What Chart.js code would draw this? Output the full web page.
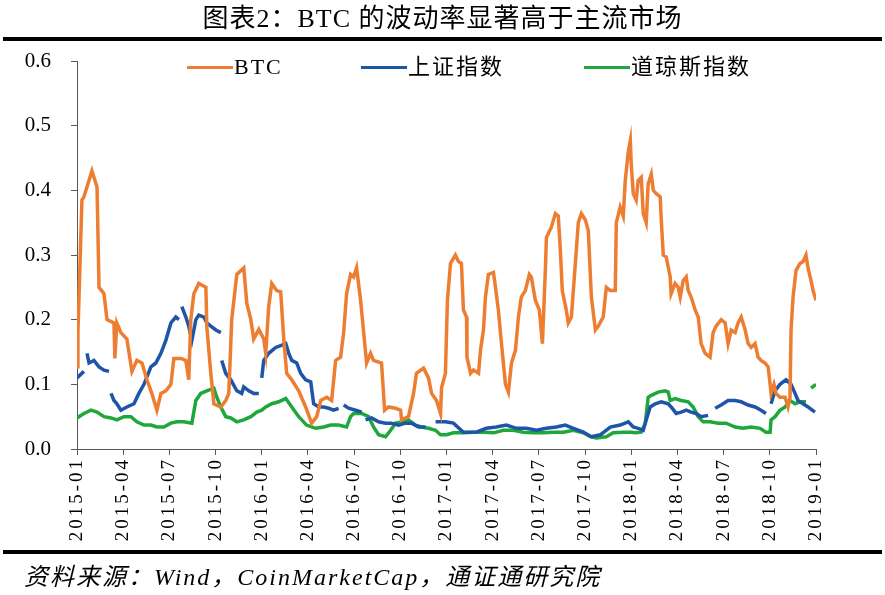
<!DOCTYPE html>
<html>
<head>
<meta charset="utf-8">
<script src="https://cdn.jsdelivr.net/npm/chart.js@4.4.1/dist/chart.umd.min.js"></script>
<style>
  body { margin: 0; background: #fff; }
  #wrap { position: relative; width: 885px; height: 595px; overflow: hidden; }
  #wrap canvas { position: absolute; left: 0; top: 0; }
  .serif { font-family: "Liberation Serif", "Noto Sans CJK SC", serif; color: #000; }
  #title { position: absolute; left: 0; top: 3px; width: 885px; text-align: center; font-size: 26px; letter-spacing: 1px; line-height: 32px; }
  .rule { position: absolute; left: 3px; width: 879px; height: 4px; background: #000; }
  #source { position: absolute; left: 24px; top: 562px; font-size: 24px; letter-spacing: 2px; font-style: italic; line-height: 30px; }
  .key { position: absolute; top: 53px; font-size: 22px; letter-spacing: 2px; line-height: 28px; white-space: nowrap; }
  .key i { display: inline-block; width: 46px; height: 3px; vertical-align: middle; margin-right: 1px; position: relative; top: -1px; }
</style>
</head>
<body>
<div id="wrap">
  <canvas id="volChart"></canvas>
  <div id="title" class="serif">图表2：BTC 的波动率显著高于主流市场</div>
  <div class="rule" style="top:37px"></div>
  <div class="key serif" style="left:187px"><i style="background:#ED7D31"></i>BTC</div>
  <div class="key serif" style="left:361px"><i style="background:#1F55A8"></i>上证指数</div>
  <div class="key serif" style="left:584px"><i style="background:#1EA83C"></i>道琼斯指数</div>
  <div class="rule" style="top:550px"></div>
  <div id="source" class="serif">资料来源：Wind，CoinMarketCap，通证通研究院</div>
</div>
<script>
// x = months since 2015-01, y = volatility
const quarterLabels = ['2015-01', '2015-04', '2015-07', '2015-10', '2016-01', '2016-04', '2016-07', '2016-10',
    '2017-01', '2017-04', '2017-07', '2017-10', '2018-01', '2018-04', '2018-07', '2018-10', '2019-01'];

const btc = [
    [0.00, 0.127], [0.06, 0.18], [0.32, 0.385], [0.45, 0.39], [0.97, 0.43], [1.30, 0.405], [1.43, 0.25], [1.75, 0.24],
    [1.95, 0.20], [2.40, 0.195], [2.46, 0.14], [2.59, 0.195], [2.85, 0.18], [3.24, 0.17], [3.57, 0.12], [3.89, 0.137],
    [4.22, 0.133], [4.54, 0.107], [4.86, 0.086], [5.19, 0.06], [5.45, 0.086], [5.77, 0.09], [6.10, 0.10], [6.29, 0.14],
    [6.75, 0.14], [7.07, 0.137], [7.26, 0.107], [7.39, 0.20], [7.59, 0.24], [7.91, 0.256], [8.37, 0.25], [8.43, 0.19],
    [8.69, 0.117], [8.89, 0.07], [9.34, 0.065], [9.66, 0.075], [9.86, 0.086], [10.05, 0.20], [10.38, 0.27], [10.83, 0.28],
    [11.03, 0.225], [11.29, 0.20], [11.48, 0.17], [11.81, 0.185], [12.13, 0.17], [12.26, 0.148], [12.45, 0.22], [12.65, 0.256],
    [12.97, 0.245], [13.23, 0.243], [13.43, 0.17], [13.62, 0.117], [13.95, 0.107], [14.40, 0.09], [14.85, 0.065], [15.24, 0.04],
    [15.57, 0.05], [15.83, 0.075], [16.22, 0.08], [16.54, 0.075], [16.80, 0.137], [17.12, 0.142], [17.32, 0.18], [17.51, 0.24],
    [17.77, 0.27], [17.97, 0.266], [18.16, 0.28], [18.42, 0.23], [18.62, 0.18], [18.81, 0.133], [19.07, 0.148], [19.26, 0.137],
    [19.78, 0.133], [19.98, 0.06], [20.24, 0.065], [20.69, 0.063], [21.02, 0.06], [21.08, 0.045], [21.53, 0.05], [21.86, 0.086],
    [22.05, 0.117], [22.51, 0.125], [22.83, 0.11], [23.03, 0.086], [23.35, 0.075], [23.61, 0.055], [23.68, 0.095], [23.93, 0.117],
    [24.06, 0.23], [24.26, 0.287], [24.58, 0.30], [24.78, 0.29], [24.97, 0.287], [25.10, 0.215], [25.30, 0.204], [25.33, 0.142],
    [25.56, 0.117], [25.75, 0.122], [26.08, 0.117], [26.21, 0.153], [26.40, 0.184], [26.53, 0.235], [26.72, 0.27], [27.05, 0.273],
    [27.18, 0.25], [27.37, 0.215], [27.57, 0.163], [27.83, 0.10], [28.02, 0.088], [28.22, 0.133], [28.48, 0.153], [28.67, 0.204],
    [28.86, 0.235], [29.12, 0.245], [29.38, 0.27], [29.51, 0.266], [29.77, 0.23], [30.03, 0.215], [30.23, 0.163], [30.42, 0.276],
    [30.49, 0.327], [30.81, 0.343], [31.07, 0.364], [31.26, 0.36], [31.39, 0.31], [31.52, 0.245], [31.78, 0.215], [31.91, 0.195],
    [32.11, 0.204], [32.37, 0.287], [32.56, 0.35], [32.76, 0.364], [33.02, 0.354], [33.21, 0.338], [33.41, 0.235], [33.67, 0.184],
    [33.86, 0.19], [34.18, 0.204], [34.38, 0.25], [34.64, 0.245], [34.96, 0.245], [35.03, 0.35], [35.28, 0.374], [35.48, 0.36],
    [35.61, 0.415], [35.81, 0.46], [35.94, 0.477], [36.00, 0.44], [36.13, 0.395], [36.32, 0.385], [36.45, 0.415], [36.65, 0.42],
    [36.78, 0.364], [36.97, 0.35], [37.10, 0.41], [37.30, 0.425], [37.43, 0.40], [37.62, 0.395], [37.88, 0.39], [37.95, 0.354],
    [38.08, 0.30], [38.27, 0.297], [38.53, 0.266], [38.59, 0.24], [38.85, 0.256], [39.05, 0.25], [39.18, 0.235], [39.37, 0.26],
    [39.57, 0.266], [39.70, 0.245], [39.89, 0.235], [40.15, 0.215], [40.35, 0.204], [40.54, 0.163], [40.80, 0.148], [41.12, 0.142],
    [41.32, 0.18], [41.51, 0.19], [41.84, 0.20], [42.10, 0.195], [42.29, 0.163], [42.49, 0.184], [42.75, 0.18], [42.94, 0.195],
    [43.14, 0.204], [43.40, 0.184], [43.59, 0.163], [43.79, 0.157], [44.04, 0.163], [44.24, 0.142], [44.43, 0.137], [44.69, 0.133],
    [44.89, 0.127], [45.02, 0.10], [45.08, 0.086], [45.27, 0.10], [45.40, 0.086], [45.66, 0.08], [45.99, 0.08], [46.18, 0.065],
    [46.31, 0.08], [46.38, 0.184], [46.51, 0.235], [46.70, 0.276], [46.96, 0.287], [47.16, 0.29], [47.35, 0.30], [47.48, 0.28],
    [47.68, 0.26], [47.81, 0.245], [48.00, 0.23]
];

// 上证指数 (null = gap in the line)
const shanghai = [
    [0.00, 0.11], [0.45, 0.12], [0.55, null], [0.65, 0.148], [0.78, 0.133], [1.10, 0.137], [1.43, 0.127], [1.75, 0.122],
    [2.08, 0.12], [2.12, null], [2.21, 0.086], [2.40, 0.075], [2.59, 0.07], [2.85, 0.06], [3.24, 0.065], [3.70, 0.07],
    [4.02, 0.086], [4.35, 0.10], [4.80, 0.127], [5.12, 0.133], [5.45, 0.148], [5.77, 0.168], [6.10, 0.195], [6.42, 0.204],
    [6.62, 0.20], [6.70, null], [6.81, 0.22], [7.07, 0.204], [7.26, 0.19], [7.46, 0.168], [7.72, 0.20], [7.91, 0.207],
    [8.24, 0.204], [8.43, 0.195], [8.69, 0.19], [9.02, 0.184], [9.34, 0.18], [9.37, null], [9.40, 0.137], [9.66, 0.117],
    [9.99, 0.107], [10.38, 0.09], [10.70, 0.086], [10.83, 0.096], [11.16, 0.09], [11.48, 0.086], [11.81, 0.086], [11.90, null],
    [12.00, 0.11], [12.13, 0.137], [12.45, 0.148], [12.91, 0.157], [13.23, 0.16], [13.56, 0.163], [13.75, 0.148], [13.95, 0.137],
    [14.27, 0.133], [14.53, 0.117], [14.85, 0.107], [15.18, 0.104], [15.37, 0.07], [15.70, 0.065], [16.02, 0.065], [16.35, 0.063],
    [16.67, 0.06], [16.99, 0.063], [17.10, null], [17.32, 0.068], [17.64, 0.063], [18.10, 0.06], [18.49, 0.057], [18.60, null],
    [18.74, 0.045], [19.13, 0.048], [19.59, 0.042], [20.04, 0.04], [20.43, 0.04], [20.89, 0.037], [21.34, 0.04], [21.73, 0.04],
    [22.18, 0.034], [22.64, 0.034], [23.00, null], [23.29, 0.042], [23.93, 0.042], [24.45, 0.04], [25.10, 0.026], [25.94, 0.026],
    [26.59, 0.032], [27.24, 0.034], [27.89, 0.037], [28.54, 0.032], [29.19, 0.032], [29.84, 0.029], [30.49, 0.032], [31.13, 0.034],
    [31.72, 0.037], [32.24, 0.032], [32.89, 0.026], [33.41, 0.019], [33.99, 0.022], [34.64, 0.034], [35.28, 0.037], [35.81, 0.042],
    [36.13, 0.034], [36.45, 0.032], [36.78, 0.029], [36.97, 0.045], [37.23, 0.065], [37.56, 0.07], [37.95, 0.073], [38.40, 0.07],
    [38.59, 0.065], [38.92, 0.055], [39.24, 0.057], [39.57, 0.06], [39.89, 0.057], [40.21, 0.055], [40.54, 0.05], [40.99, 0.052],
    [41.20, null], [41.45, 0.063], [41.84, 0.068], [42.29, 0.075], [42.75, 0.075], [43.14, 0.073], [43.59, 0.068], [44.04, 0.065],
    [44.43, 0.06], [44.75, 0.055], [44.90, null], [45.08, 0.07], [45.34, 0.09], [45.66, 0.10], [46.05, 0.107], [46.38, 0.10],
    [46.64, 0.086], [46.83, 0.075], [47.16, 0.07], [47.48, 0.065], [47.93, 0.057]
];

// 道琼斯指数
const dowJones = [
    [0.00, 0.048], [0.45, 0.055], [0.91, 0.06], [1.30, 0.057], [1.75, 0.05], [2.21, 0.048], [2.59, 0.045], [3.05, 0.05],
    [3.50, 0.05], [3.89, 0.042], [4.35, 0.037], [4.80, 0.037], [5.19, 0.034], [5.64, 0.034], [6.10, 0.04], [6.49, 0.042],
    [6.94, 0.042], [7.46, 0.04], [7.72, 0.075], [8.04, 0.086], [8.43, 0.09], [8.89, 0.094], [9.08, 0.08], [9.34, 0.065],
    [9.66, 0.05], [9.99, 0.048], [10.38, 0.042], [10.83, 0.045], [11.29, 0.05], [11.68, 0.057], [12.00, 0.06], [12.26, 0.065],
    [12.65, 0.07], [13.10, 0.073], [13.56, 0.078], [13.95, 0.065], [14.40, 0.05], [14.91, 0.037], [15.50, 0.032], [16.02, 0.034],
    [16.48, 0.037], [16.99, 0.037], [17.51, 0.034], [17.77, 0.05], [17.97, 0.055], [18.49, 0.055], [18.94, 0.05], [19.26, 0.034],
    [19.59, 0.022], [20.04, 0.019], [20.37, 0.029], [20.69, 0.04], [21.08, 0.042], [21.53, 0.045], [21.99, 0.037], [22.38, 0.034],
    [22.83, 0.032], [23.29, 0.029], [23.61, 0.022], [24.00, 0.022], [24.45, 0.025], [25.10, 0.025], [25.75, 0.026], [26.40, 0.026],
    [27.05, 0.025], [27.70, 0.029], [28.34, 0.029], [28.99, 0.026], [29.64, 0.025], [30.29, 0.025], [30.94, 0.026], [31.59, 0.026],
    [32.24, 0.029], [32.89, 0.025], [33.34, 0.019], [33.73, 0.017], [34.38, 0.019], [34.83, 0.025], [35.48, 0.026], [36.00, 0.026],
    [36.26, 0.025], [36.65, 0.026], [36.91, 0.04], [37.10, 0.08], [37.30, 0.083], [37.75, 0.088], [38.20, 0.09], [38.40, 0.088],
    [38.53, 0.075], [38.85, 0.078], [39.24, 0.075], [39.70, 0.073], [40.02, 0.065], [40.35, 0.05], [40.67, 0.042], [41.12, 0.042],
    [41.64, 0.04], [42.16, 0.04], [42.75, 0.034], [43.26, 0.032], [43.79, 0.034], [44.37, 0.032], [44.75, 0.026], [45.02, 0.026],
    [45.08, 0.045], [45.34, 0.05], [45.66, 0.06], [45.99, 0.065], [46.31, 0.075], [46.64, 0.07], [46.96, 0.073], [47.35, 0.073],
    [47.50, null], [47.68, 0.094], [48.00, 0.10]
];

const toPoints = arr => arr.map(([x, y]) => ({ x, y }));

function series(label, arr, color) {
    return {
        label: label,
        data: toPoints(arr),
        borderColor: color,
        backgroundColor: color,
        borderWidth: 3.5,
        pointRadius: 0,
        tension: 0,
        spanGaps: false
    };
}

// letter spacing for the rotated date labels (drawn after the lines)
const spacedLabels = {
    id: 'spacedLabels',
    afterDatasetsDraw(chart) { chart.ctx.letterSpacing = '3px'; },
    afterDraw(chart) { chart.ctx.letterSpacing = '0px'; }
};

const axisColor = '#595959';
const ctx = document.getElementById('volChart').getContext('2d');

new Chart(ctx, {
    type: 'line',
    data: {
        datasets: [
            series('BTC', btc, '#ED7D31'),
            series('上证指数', shanghai, '#1F55A8'),
            series('道琼斯指数', dowJones, '#1EA83C')
        ]
    },
    options: {
        responsive: true,
        maintainAspectRatio: false,
        animation: false,
        layout: { padding: { top: 61, right: 69, bottom: 45, left: 0 } },
        scales: {
            x: {
                type: 'linear',
                min: 0,
                max: 48,
                afterBuildTicks: scale => {
                    scale.ticks = quarterLabels.map((_, i) => ({ value: i * 3 }));
                },
                afterFit: scale => { scale.height = 101; },
                grid: { display: true, drawOnChartArea: false, drawTicks: true, tickLength: 6, color: axisColor },
                border: { display: true, color: axisColor, width: 1 },
                ticks: {
                    z: 1,
                    minRotation: 90,
                    maxRotation: 90,
                    autoSkip: false,
                    padding: 2,
                    color: '#000',
                    font: { family: 'Liberation Serif', size: 19 },
                    callback: value => quarterLabels[Math.round(value / 3)]
                }
            },
            y: {
                min: 0,
                max: 0.6,
                afterFit: scale => { scale.width = 77; },
                grid: { display: true, drawOnChartArea: false, drawTicks: true, tickLength: 6, color: axisColor },
                border: { display: true, color: axisColor, width: 1 },
                ticks: {
                    stepSize: 0.1,
                    padding: 20,
                    color: '#000',
                    font: { family: 'Liberation Serif', size: 21 },
                    callback: value => value.toFixed(1)
                }
            }
        },
        plugins: {
            legend: { display: false },
            tooltip: { enabled: false }
        }
    },
    plugins: [spacedLabels]
});
</script>
</body>
</html>
